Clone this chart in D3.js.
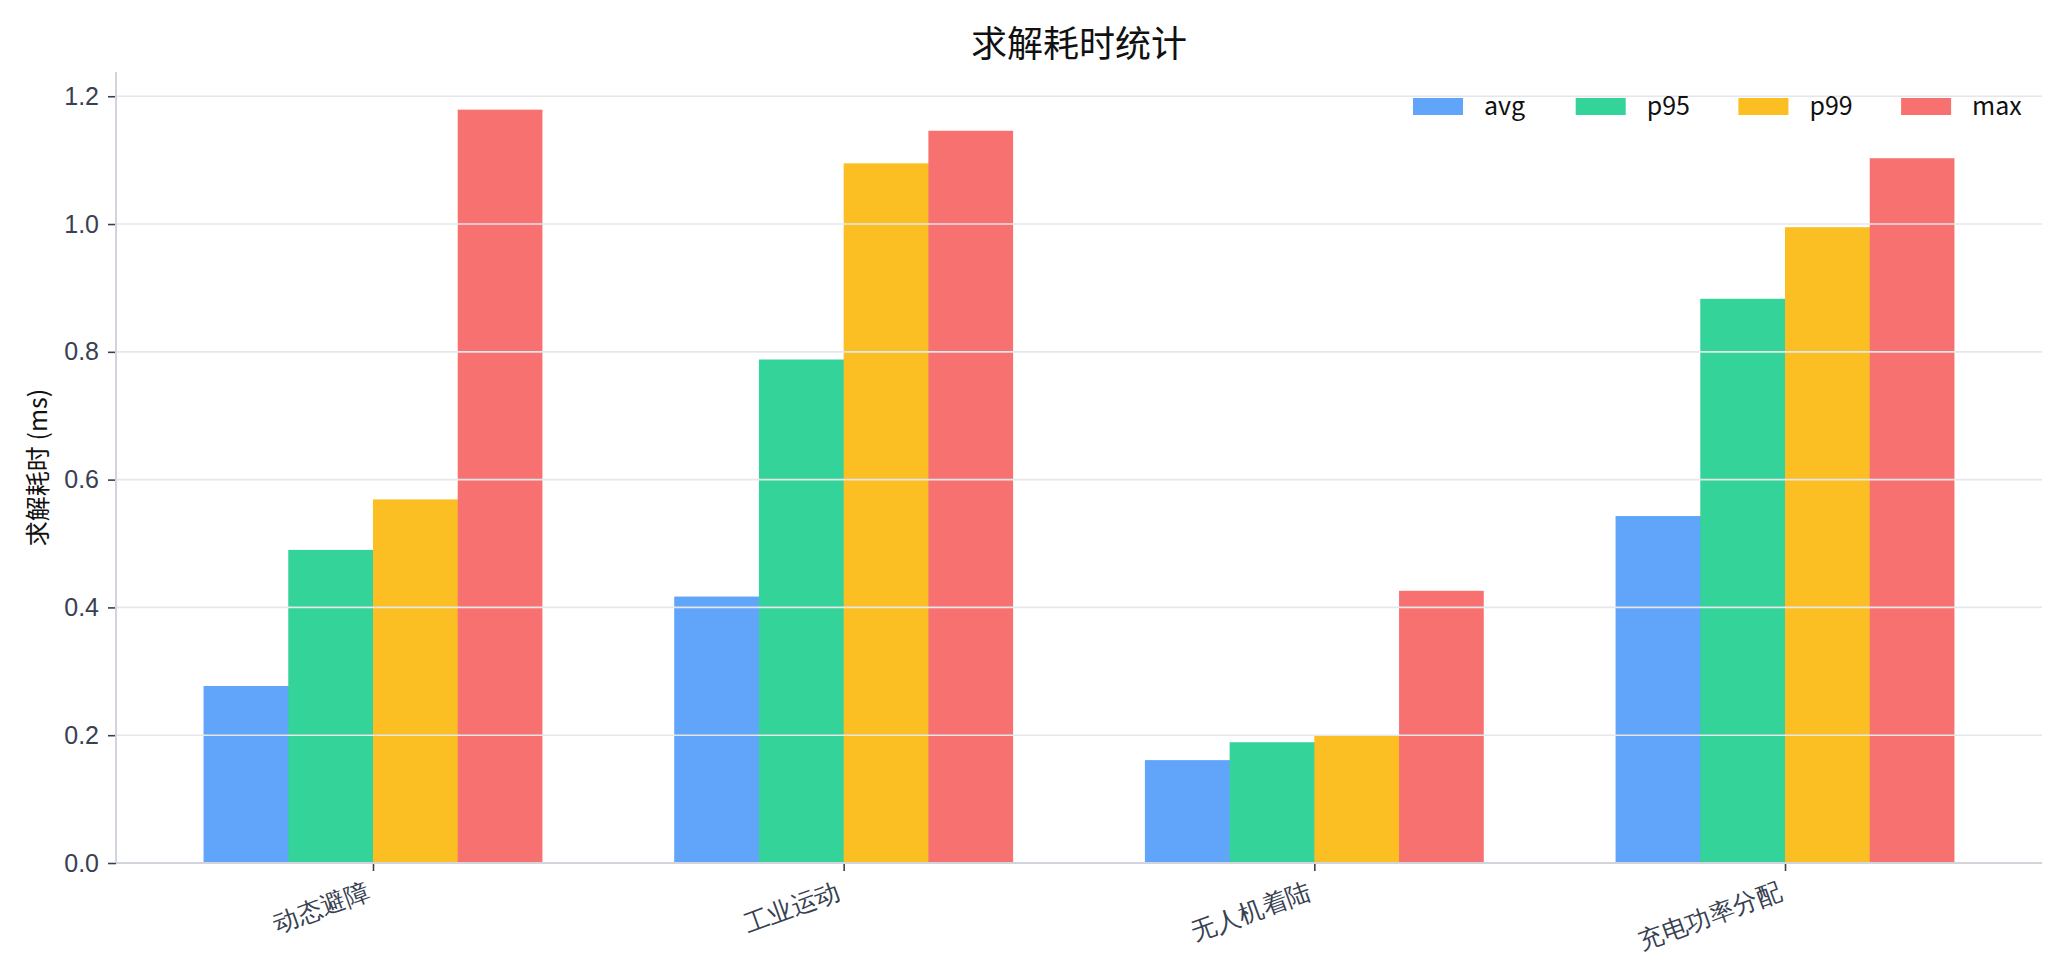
<!DOCTYPE html>
<html lang="zh">
<head>
<meta charset="UTF-8">
<title>求解耗时统计</title>
<style>
  body { margin: 0; background: #fff; }
  svg { display: block; font-family: "Noto Sans CJK SC", "Noto Sans", sans-serif; }
</style>
</head>
<body>
<svg id="chart"></svg>
<script src="https://d3js.org/d3.v7.min.js"></script>
<script>
// values (ms)
const categories = ["动态避障", "工业运动", "无人机着陆", "充电功率分配"];
const seriesNames = ["avg", "p95", "p99", "max"];
const avgValues = [0.277, 0.417, 0.161, 0.543];
const p95Values = [0.490, 0.788, 0.189, 0.883];
const p99Values = [0.569, 1.095, 0.199, 0.995];
const maxValues = [1.179, 1.146, 0.426, 1.103];
const yTicks = [0, 0.2, 0.4, 0.6, 0.8, 1.0, 1.2];

const series = [avgValues, p95Values, p99Values, maxValues];
const colors = ["#60a5fa", "#34d399", "#fbbf24", "#f87171"];

const W = 2070, H = 972;
const margin = { left: 116, right: 28, top: 72, bottom: 109 };
const barW = 0.18;   // in category units, 4 bars per group

const svg = d3.select("#chart").attr("width", W).attr("height", H);

// matplotlib-like 5% margins around bar extent
const lo = -2 * barW, hi = categories.length - 1 + 2 * barW;
const pad = (hi - lo) * 0.05;
const x = d3.scaleLinear()
  .domain([lo - pad, hi + pad])
  .range([margin.left, W - margin.right]);

const yMax = d3.max(series.flat()) * 1.05;
const y = d3.scaleLinear()
  .domain([0, yMax])
  .range([H - margin.bottom, margin.top]);

// bars (a hair wider so neighbours don't show a seam)
const bars = svg.append("g");
series.forEach((vals, s) => {
  bars.selectAll(null)
    .data(vals)
    .enter()
    .append("rect")
    .attr("x", (d, i) => x(i + (s - 2) * barW))
    .attr("width", x(barW) - x(0) + (s < 3 ? 0.8 : 0))
    .attr("y", d => y(d))
    .attr("height", d => y(0) - y(d))
    .attr("fill", colors[s]);
});

// horizontal grid drawn over the bars
svg.append("g")
  .selectAll("line")
  .data(yTicks)
  .enter()
  .append("line")
  .attr("x1", x.range()[0])
  .attr("x2", x.range()[1])
  .attr("y1", d => y(d))
  .attr("y2", d => y(d))
  .attr("stroke", "#e5e7eb")
  .attr("stroke-width", 1.6);

// y axis
const yAxis = svg.append("g")
  .attr("transform", `translate(${margin.left},0)`)
  .call(d3.axisLeft(y).tickValues(yTicks).tickFormat(d3.format(".1f")).tickSize(8).tickPadding(9));
yAxis.select(".domain").remove();
yAxis.selectAll(".tick line").attr("stroke", "#374151").attr("stroke-width", 1.6);
yAxis.selectAll(".tick text").attr("fill", "#374151").style("font-size", "25px");

// x axis
const xAxis = svg.append("g")
  .attr("transform", `translate(0,${y(0)})`)
  .call(d3.axisBottom(x).tickValues(d3.range(categories.length)).tickFormat(i => categories[i]).tickSize(8).tickPadding(0));
xAxis.select(".domain").remove();
xAxis.selectAll(".tick line").attr("stroke", "#374151").attr("stroke-width", 1.6);
xAxis.selectAll(".tick text")
  .attr("fill", "#374151")
  .style("font-size", "25px")
  .attr("text-anchor", "end")
  .attr("y", 0)
  .attr("dy", "0.78em")
  .attr("transform", "translate(-9,17) rotate(-20)");

// spines
svg.append("line")
  .attr("x1", margin.left).attr("x2", margin.left)
  .attr("y1", margin.top).attr("y2", y(0))
  .attr("stroke", "#d1d5db").attr("stroke-width", 2);
svg.append("line")
  .attr("x1", margin.left).attr("x2", W - margin.right)
  .attr("y1", y(0)).attr("y2", y(0))
  .attr("stroke", "#d1d5db").attr("stroke-width", 2);

// title
svg.append("text")
  .attr("x", (x.range()[0] + x.range()[1]) / 2)
  .attr("y", 57)
  .attr("text-anchor", "middle")
  .attr("fill", "#111")
  .style("font-size", "36px")
  .text("求解耗时统计");

// y label
svg.append("text")
  .attr("transform", `translate(47,${(margin.top + y(0)) / 2}) rotate(-90)`)
  .attr("text-anchor", "middle")
  .attr("fill", "#111")
  .style("font-size", "25px")
  .text("求解耗时 (ms)");

// legend, single row top-right, no frame
const legend = svg.append("g").attr("transform", "translate(1413,98)");
const item = legend.selectAll("g")
  .data(seriesNames)
  .enter()
  .append("g")
  .attr("transform", (d, i) => `translate(${i * 162.7},0)`);
item.append("rect")
  .attr("width", 50).attr("height", 17)
  .attr("fill", (d, i) => colors[i]);
item.append("text")
  .attr("x", 71).attr("y", 17)
  .attr("fill", "#111")
  .style("font-size", "25px")
  .text(d => d);
</script>
</body>
</html>
